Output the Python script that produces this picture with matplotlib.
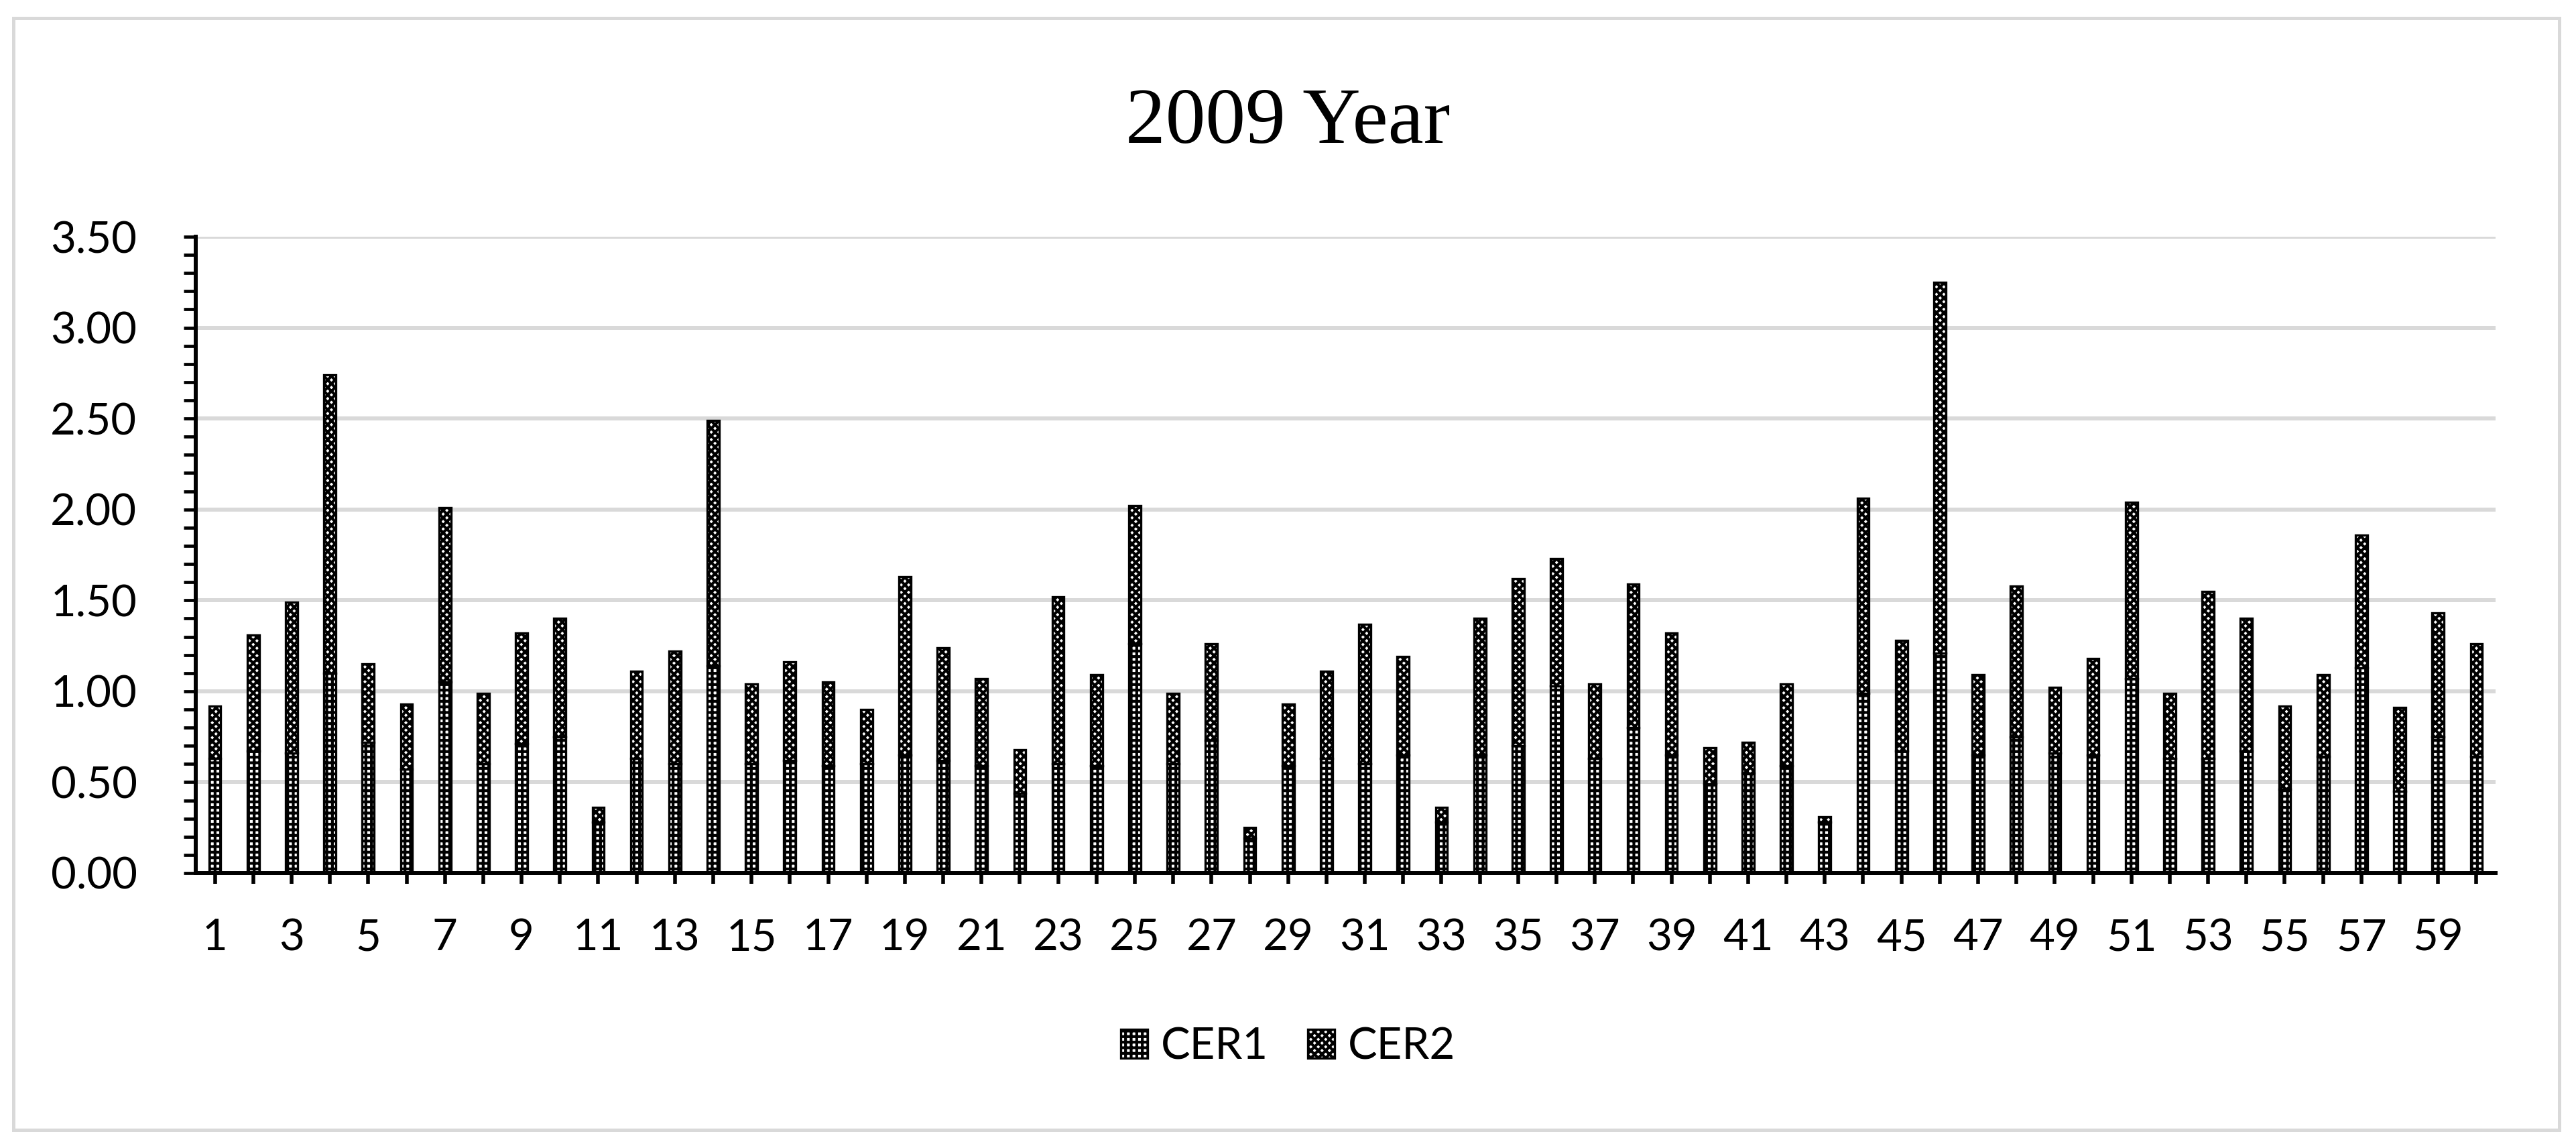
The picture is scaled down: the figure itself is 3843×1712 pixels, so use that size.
import matplotlib
matplotlib.use("Agg")
import matplotlib.pyplot as plt
from matplotlib.patches import Rectangle

# values (stacked: CER1 at the bottom, CER2 on top)
categories = list(range(1, 61))
cer1 = [0.63, 0.67, 0.66, 1.10, 0.72, 0.57, 1.05, 0.60, 0.71, 0.75,
        0.28, 0.63, 0.60, 1.14, 0.60, 0.62, 0.59, 0.60, 0.65, 0.62,
        0.59, 0.44, 0.60, 0.59, 1.26, 0.60, 0.73, 0.19, 0.59, 0.63,
        0.60, 0.65, 0.28, 0.65, 0.70, 1.03, 0.63, 0.80, 0.65, 0.49,
        0.55, 0.59, 0.28, 0.99, 0.67, 1.21, 0.65, 0.75, 0.66, 0.65,
        1.07, 0.63, 0.63, 0.67, 0.46, 0.64, 1.13, 0.45, 0.75, 0.64]
cer2 = [0.29, 0.64, 0.83, 1.64, 0.43, 0.36, 0.96, 0.39, 0.61, 0.65,
        0.08, 0.48, 0.62, 1.35, 0.44, 0.54, 0.46, 0.30, 0.98, 0.62,
        0.48, 0.24, 0.92, 0.50, 0.76, 0.39, 0.53, 0.06, 0.34, 0.48,
        0.77, 0.54, 0.08, 0.75, 0.92, 0.70, 0.41, 0.79, 0.67, 0.20,
        0.17, 0.45, 0.03, 1.07, 0.61, 2.04, 0.44, 0.83, 0.36, 0.53,
        0.97, 0.36, 0.92, 0.73, 0.46, 0.45, 0.73, 0.46, 0.68, 0.62]
series_names = ["CER1", "CER2"]
title = "2009 Year"
yticks = [0.0, 0.5, 1.0, 1.5, 2.0, 2.5, 3.0, 3.5]

plt.rcParams["font.family"] = ["Lato", "DejaVu Sans"]
plt.rcParams["hatch.linewidth"] = 3.0

W, H = 3843, 1712
fig = plt.figure(figsize=(W / 100, H / 100), dpi=100)
fig.patch.set_facecolor("white")

# light grey frame around the whole chart
fig.patches.append(Rectangle((20 / W, 1 - 1685 / H), (3818 - 20) / W, (1685 - 27) / H,
                             transform=fig.transFigure, fill=False,
                             ec="#D9D9D9", lw=3.6))

ax = fig.add_axes([292 / W, 1 - 1302 / H, (3723 - 292) / W, (1302 - 353) / H])

x = list(range(len(categories)))
bw = 0.31
b1 = ax.bar(x, cer1, bw, color="white", edgecolor="black", linewidth=2.4,
            hatch="++", label=series_names[0], zorder=3)
b2 = ax.bar(x, cer2, bw, bottom=cer1, color="white", edgecolor="black",
            linewidth=2.4, hatch="xxx", label=series_names[1], zorder=3)

ax.set_xlim(-0.5, len(categories) - 0.5)
ax.set_ylim(0, 3.5)
ax.set_yticks(yticks)
ax.set_yticklabels([f"{v:.2f}" for v in yticks])
ax.set_yticks([i / 10 for i in range(36)], minor=True)
ax.set_xticks(x)
ax.set_xticklabels([str(c) if c % 2 == 1 else "" for c in categories])

ax.tick_params(axis="y", which="both", direction="out", length=13, width=3.4,
               labelsize=47, pad=50, color="black")
ax.tick_params(axis="x", which="major", direction="out", length=11.5, width=4.0,
               labelsize=47, pad=37, color="black")

ax.yaxis.grid(True, color="#D9D9D9", linewidth=4.3)
ax.set_axisbelow(True)
for side in ["top", "right"]:
    ax.spines[side].set_visible(False)
for side in ["left", "bottom"]:
    ax.spines[side].set_linewidth(4.3)
    ax.spines[side].set_color("black")
    ax.spines[side].set_zorder(4)

fig.text(0.5, 1 - 213 / H, title, ha="center", va="baseline",
         fontsize=86, family=["Liberation Serif", "DejaVu Serif"])

fig.legend(handles=[b1, b2], labels=series_names, loc="center",
           bbox_to_anchor=(0.5, 1 - 1561 / H), ncol=2, frameon=False,
           fontsize=47, handlelength=0.62, handleheight=0.62,
           handletextpad=0.3, columnspacing=0.9)

fig.savefig("out.png", dpi=100, facecolor="white")
